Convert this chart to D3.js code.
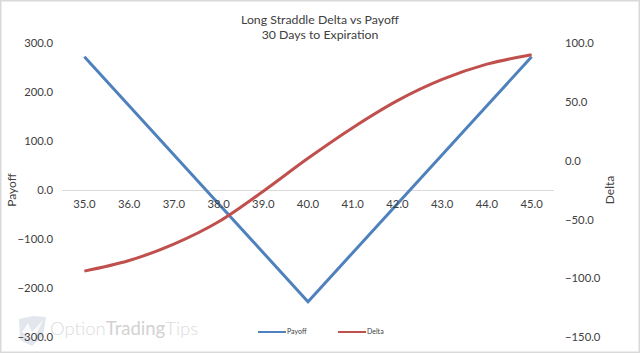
<!DOCTYPE html>
<html lang="en">
<head>
    <meta charset="UTF-8">
    <title>Long Straddle Delta vs Payoff</title>
    <script src="https://cdn.jsdelivr.net/npm/d3@7/dist/d3.min.js"></script>
    <style>
        html, body { margin: 0; padding: 0; background: #fff; }
        svg { display: block; }
        text { font-family: Lato, "Open Sans", sans-serif; fill: #404040; }
        .tick line, .domain { display: none; }
    </style>
</head>
<body>
    <svg width="640" height="353"></svg>
    <script>
        var prices = [35, 36, 37, 38, 39, 40, 41, 42, 43, 44, 45];
        var payoff = [272, 172, 72, -28, -128, -228, -128, -28, 72, 172, 272];
        var delta = [-94, -85, -71, -52, -26, 2, 28, 51, 69, 82, 90];
        var payoffTicks = [300, 200, 100, 0, -100, -200, -300];
        var deltaTicks = [100, 50, 0, -50, -100, -150];

        var svg = d3.select('svg'),
            width = 640,
            height = 353,
            margin = { top: 43, right: 86, bottom: 16, left: 62 },
            fmt = d3.format('.1f');

        var xScale = d3.scaleBand().domain(prices).range([margin.left, width - margin.right]),
            yLeft = d3.scaleLinear().domain([-300, 300]).range([height - margin.bottom, margin.top]),
            yRight = d3.scaleLinear().domain([-150, 100]).range([height - margin.bottom, margin.top]);

        var xMid = function(d) { return xScale(d) + xScale.bandwidth() / 2; };

        // chart frame
        svg.append('rect')
            .attr('x', 0.5).attr('y', 0.5)
            .attr('width', width - 1).attr('height', height - 1)
            .attr('fill', '#fff').attr('stroke', '#d9d9d9').attr('stroke-width', 2);

        // watermark
        var mark = svg.append('g').attr('transform', 'translate(19,316)');
        mark.append('path').attr('d', 'M0 3L14 0L27 1L24 20L13 30L1 24Z').attr('fill', '#e4e6ee');
        mark.append('path').attr('d', 'M3 16L9 7L13 16L24 4L15 24Z').attr('fill', '#fafafc');
        var wm = svg.append('text')
            .attr('x', 50).attr('y', 335)
            .style('font-size', '18.5px');
        wm.append('tspan').style('font-weight', 300).style('fill', '#dcdcdc').text('Option');
        wm.append('tspan').style('font-weight', 400).style('fill', '#d2d2d2').text('Trading');
        wm.append('tspan').style('font-weight', 300).style('fill', '#dcdcdc').text('Tips');

        // zero line
        svg.append('line')
            .attr('x1', margin.left).attr('x2', width - margin.right)
            .attr('y1', yLeft(0) + 0.5).attr('y2', yLeft(0) + 0.5)
            .attr('stroke', '#d9d9d9');

        var payoffLine = d3.line().x(function(d, i) { return xMid(prices[i]); }).y(function(d) { return yLeft(d); }),
            deltaLine = d3.line().x(function(d, i) { return xMid(prices[i]); }).y(function(d) { return yRight(d); }).curve(d3.curveCatmullRom);

        svg.append('path').datum(payoff).attr('d', payoffLine)
            .attr('fill', 'none').attr('stroke', '#4f81bd').attr('stroke-width', 3);
        svg.append('path').datum(delta).attr('d', deltaLine)
            .attr('fill', 'none').attr('stroke', '#c0504d').attr('stroke-width', 3);

        // axes go after the lines so 38.0 and 42.0 stay readable
        var xAxis = d3.axisBottom(xScale).tickSize(0).tickPadding(10).tickFormat(fmt),
            leftAxis = d3.axisLeft(yLeft).tickValues(payoffTicks).tickSize(0).tickPadding(9).tickFormat(fmt),
            rightAxis = d3.axisRight(yRight).tickValues(deltaTicks).tickSize(0).tickPadding(0).tickFormat(fmt);

        svg.append('g').attr('transform', 'translate(0,' + yLeft(0) + ')').call(xAxis);
        svg.append('g').attr('transform', 'translate(' + margin.left + ',0)').call(leftAxis);
        svg.append('g').attr('transform', 'translate(565,0)').call(rightAxis);
        svg.selectAll('.tick text').style('font-size', '11.3px').style('fill', '#404040').attr('font-family', null);

        // titles
        svg.append('text').attr('x', 320).attr('y', 24).attr('text-anchor', 'middle')
            .style('font-size', '12.3px').text('Long Straddle Delta vs Payoff');
        svg.append('text').attr('x', 320).attr('y', 39).attr('text-anchor', 'middle')
            .style('font-size', '12.3px').text('30 Days to Expiration');
        svg.append('text').attr('transform', 'translate(16,190) rotate(-90)').attr('text-anchor', 'middle')
            .style('font-size', '12px').text('Payoff');
        svg.append('text').attr('transform', 'translate(614,190) rotate(-90)').attr('text-anchor', 'middle')
            .style('font-size', '12px').text('Delta');

        // legend
        var legendItems = [
            { name: 'Payoff', color: '#4f81bd', x: 258 },
            { name: 'Delta', color: '#c0504d', x: 338 }
        ];
        var legend = svg.selectAll('.legend-item').data(legendItems).enter().append('g')
            .attr('class', 'legend-item')
            .attr('transform', function(d) { return 'translate(' + d.x + ',332)'; });
        legend.append('line').attr('x1', 0).attr('x2', 28)
            .attr('stroke', function(d) { return d.color; }).attr('stroke-width', 2);
        legend.append('text').attr('x', 29).attr('y', 2)
            .style('font-size', '7px').text(function(d) { return d.name; });
    </script>
</body>
</html>
